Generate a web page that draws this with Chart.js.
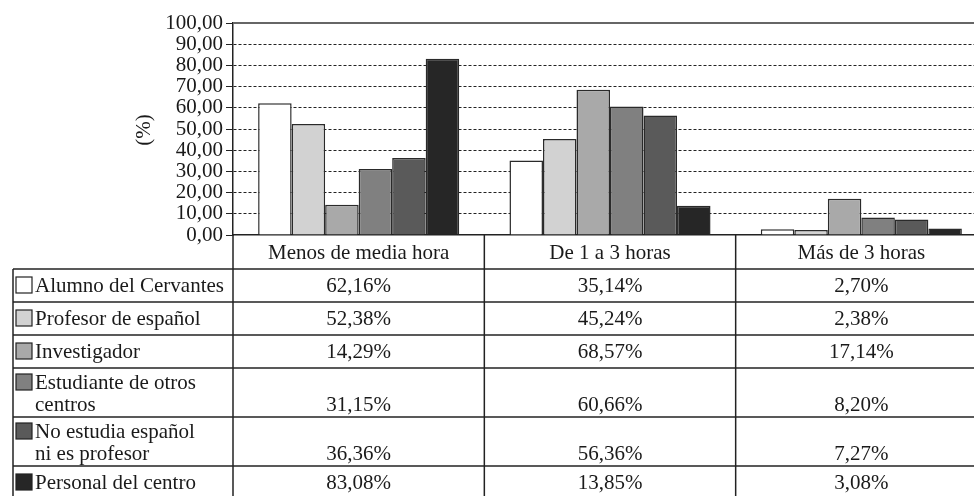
<!DOCTYPE html>
<html><head><meta charset="utf-8">
<script src="https://cdn.jsdelivr.net/npm/chart.js@4.4.1/dist/chart.umd.min.js"></script>
<style>html,body{margin:0;padding:0;background:#fff;overflow:hidden;width:974px;height:496px}canvas{display:block}</style>
</head><body><canvas id="c" width="990" height="496" style="width:990px;height:496px"></canvas>
<script>
const categories = ['Menos de media hora', 'De 1 a 3 horas', 'Más de 3 horas'];
const seriesLabels = [['Alumno del Cervantes'], ['Profesor de español'], ['Investigador'], ['Estudiante de otros', 'centros'], ['No estudia español', 'ni es profesor'], ['Personal del centro']];
const alumno = [62.16, 35.14, 2.70];
const profesor = [52.38, 45.24, 2.38];
const investigador = [14.29, 68.57, 17.14];
const estudiante = [31.15, 60.66, 8.20];
const noEstudia = [36.36, 56.36, 7.27];
const personal = [83.08, 13.85, 3.08];
const yTicks = [0, 10, 20, 30, 40, 50, 60, 70, 80, 90, 100];
const yTitle = '(%)';

const seriesValues = [alumno, profesor, investigador, estudiante, noEstudia, personal];
const fills = ['#ffffff', '#d2d2d2', '#a9a9a9', '#808080', '#5a5a5a', '#262626'];
const FONT = '"Liberation Serif", "Times New Roman", serif';
const fmt = v => v.toFixed(2).replace('.', ',');

const tablePlugin = {
  id: 'tablePlugin',
  afterDraw(chart) {
    const {ctx, chartArea: ca, scales: {x, y}} = chart;
    const n = categories.length;
    const catW = (ca.right - ca.left) / n;
    const colEdges = [];
    for (let i = 0; i <= n; i++) colEdges.push(x.getPixelForValue(i) - catW / 2);
    const tableLeft = 13;
    const headerH = 34;
    const rowH = seriesLabels.map(l => l.length > 1 ? 49 : 33);
    const bottom = chart.height + 20;
    ctx.save();
    const yTop = y.getPixelForValue(100);
    ctx.strokeStyle = '#666';
    ctx.lineWidth = 2;
    ctx.beginPath(); ctx.moveTo(ca.left, yTop); ctx.lineTo(ca.right + 5, yTop); ctx.stroke();

    ctx.fillStyle = '#1a1a1a';
    ctx.font = '21px ' + FONT;
    ctx.save();
    ctx.translate(150, (ca.top + ca.bottom) / 2 + 1);
    ctx.rotate(-Math.PI / 2);
    ctx.textAlign = 'center'; ctx.textBaseline = 'alphabetic';
    ctx.fillText(yTitle, 0, 0);
    ctx.restore();

    ctx.strokeStyle = '#222';
    ctx.lineWidth = 1.5;
    colEdges.forEach(px => {
      ctx.beginPath(); ctx.moveTo(px, ca.bottom); ctx.lineTo(px, bottom); ctx.stroke();
    });
    const headTop = ca.bottom;
    const firstRowTop = headTop + headerH;
    ctx.beginPath(); ctx.moveTo(tableLeft, firstRowTop); ctx.lineTo(tableLeft, bottom); ctx.stroke();
    const rowTops = [];
    let yy = firstRowTop;
    for (let r = 0; r < rowH.length; r++) {
      rowTops.push(yy);
      ctx.beginPath(); ctx.moveTo(tableLeft, yy); ctx.lineTo(ca.right + 5, yy); ctx.stroke();
      yy += rowH[r];
    }
    ctx.beginPath(); ctx.moveTo(tableLeft, yy); ctx.lineTo(ca.right + 5, yy); ctx.stroke();

    ctx.fillStyle = '#1a1a1a';
    ctx.font = '21px ' + FONT;
    ctx.textAlign = 'center'; ctx.textBaseline = 'alphabetic';
    categories.forEach((c, i) => ctx.fillText(c, x.getPixelForValue(i), headTop + 24));

    seriesLabels.forEach((lines, r) => {
      const top = rowTops[r];
      const b1 = top + (lines.length > 1 ? 21 : 23);
      ctx.fillStyle = fills[r];
      ctx.fillRect(16, b1 - 15, 16, 16);
      ctx.strokeStyle = '#222'; ctx.lineWidth = 1.2;
      ctx.strokeRect(16, b1 - 15, 16, 16);
      ctx.fillStyle = '#1a1a1a';
      ctx.textAlign = 'left';
      lines.forEach((t, k) => ctx.fillText(t, 35, b1 + k * 22));
      const vb = b1 + (lines.length - 1) * 22;
      ctx.textAlign = 'center';
      seriesValues[r].forEach((v, i) => ctx.fillText(fmt(v) + '%', x.getPixelForValue(i), vb));
    });
    ctx.restore();
  }
};

new Chart(document.getElementById('c'), {
  type: 'bar',
  data: {
    labels: categories,
    datasets: seriesValues.map((vals, i) => ({
      label: seriesLabels[i].join(' '),
      data: vals,
      backgroundColor: fills[i],
      borderColor: '#2a2a2a',
      borderWidth: 1.5,
      barPercentage: 1.0,
      categoryPercentage: 0.8
    }))
  },
  options: {
    responsive: false,
    devicePixelRatio: 1,
    animation: false,
    layout: {padding: {top: 23, right: 3, left: 0, bottom: 0}},
    plugins: {legend: {display: false}, tooltip: {enabled: false}},
    scales: {
      x: {
        ticks: {display: false},
        grid: {display: false},
        border: {display: true, color: '#222', width: 1.5},
        afterFit: s => { s.height = 261; }
      },
      y: {
        min: 0, max: 100,
        afterBuildTicks: s => { s.ticks = yTicks.map(v => ({value: v})); },
        ticks: {
          color: '#1a1a1a',
          font: {family: FONT, size: 21},
          padding: 3,
          autoSkip: false,
          callback: v => fmt(v)
        },
        grid: {
          color: c => (c.tick && (c.tick.value === 0 || c.tick.value === 100)) ? 'rgba(0,0,0,0)' : '#222',
          lineWidth: 1,
          tickColor: '#222',
          tickLength: 7,
          tickWidth: 1
        },
        border: {display: true, color: '#222', width: 1.5, dash: [3, 2]},
        afterFit: s => { s.width = 233; }
      }
    }
  },
  plugins: [tablePlugin]
});
</script>
</body></html>
